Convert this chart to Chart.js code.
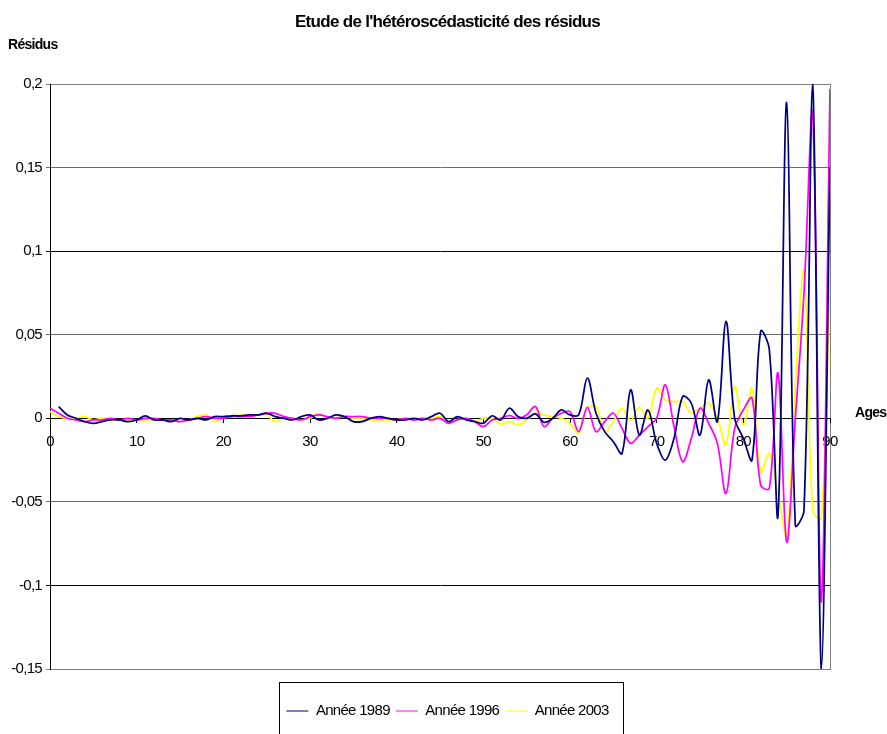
<!DOCTYPE html>
<html>
<head>
<meta charset="utf-8">
<script src="https://cdn.jsdelivr.net/npm/chart.js@4"></script>
<style>
  html, body { margin: 0; padding: 0; background: #fff; }
  #wrap { width: 887px; height: 734px; }
</style>
</head>
<body>
<div id="wrap"><canvas id="residusChart"></canvas></div>
<script>
// ages 0..90
const ages = Array.from({ length: 91 }, (_, i) => i);

// résidus
const annee1989 = [
  null, 0.007, 0.002, 0.000, -0.002, -0.003, -0.002, -0.001, -0.001, -0.002,
  -0.001, 0.0015, -0.001, -0.001, -0.002, 0.000, -0.001, 0.000, -0.001, 0.001,
  0.001, 0.0015, 0.0015, 0.002, 0.002, 0.003, 0.001, 0.000, -0.001, 0.001,
  0.002, -0.001, 0.000, 0.002, 0.001, -0.002, -0.002, 0.000, 0.001, 0.000,
  -0.001, -0.001, 0.000, -0.001, 0.001, 0.003, -0.002, 0.001, -0.001, -0.002,
  -0.003, 0.0015, -0.001, 0.006, 0.001, 0.000, 0.0026, -0.0024, 0.000, 0.005,
  0.002, 0.002, 0.024, 0.003, -0.008, -0.014, -0.021, 0.017, -0.010, 0.005,
  -0.015, -0.025, -0.012, 0.013, 0.009, -0.010, 0.023, -0.002, 0.058, 0.000,
  -0.012, -0.025, 0.052, 0.041, -0.058, 0.189, -0.064, -0.055, 0.200, -0.150,
  0.150
];
const annee1996 = [
  0.006, 0.003, 0.000, -0.001, -0.002, -0.001, -0.001, 0.000, -0.001, 0.000,
  -0.001, 0.000, 0.000, -0.001, -0.001, -0.002, -0.001, 0.000, 0.001, 0.000,
  0.000, 0.001, 0.001, 0.001, 0.002, 0.003, 0.003, 0.001, 0.000, -0.001,
  0.001, 0.002, 0.001, 0.000, 0.001, 0.001, 0.001, 0.000, 0.000, 0.000,
  -0.001, 0.000, -0.001, 0.000, -0.001, 0.000, -0.003, -0.001, 0.000, -0.002,
  -0.005, -0.001, 0.000, 0.0016, 0.000, 0.002, 0.007, -0.005, 0.000, 0.003,
  0.004, -0.008, 0.0066, -0.008, -0.002, 0.003, -0.006, -0.015, -0.010, -0.005,
  0.000, 0.020, -0.005, -0.026, -0.012, 0.006, -0.003, -0.015, -0.045, -0.006,
  0.005, 0.012, -0.040, -0.042, 0.027, -0.074, 0.000, 0.075, 0.182, -0.110,
  0.197
];
const annee2003 = [
  0.004, 0.001, 0.000, 0.000, 0.001, -0.001, 0.000, -0.001, -0.001, -0.001,
  -0.001, -0.001, -0.001, -0.001, -0.001, -0.002, -0.001, 0.001, 0.002, -0.002,
  0.001, 0.001, 0.002, 0.002, 0.002, 0.002, -0.002, 0.000, 0.000, -0.001,
  0.000, 0.003, 0.000, 0.000, 0.001, 0.000, 0.000, -0.001, -0.001, -0.001,
  -0.001, 0.000, 0.000, 0.000, 0.000, 0.001, -0.002, -0.001, 0.000, -0.002,
  0.000, 0.000, -0.0034, -0.002, -0.004, -0.001, 0.003, 0.002, 0.001, 0.000,
  -0.003, -0.009, 0.006, 0.007, -0.008, -0.002, 0.006, -0.001, 0.0066, 0.000,
  0.018, 0.011, 0.010, 0.010, 0.003, 0.006, 0.009, 0.000, -0.016, 0.019,
  -0.004, 0.018, -0.032, -0.021, -0.045, -0.070, 0.020, 0.088, -0.055, -0.060,
  0.083
];

const yTickLabels = ['-0,15', '-0,1', '-0,05', '0', '0,05', '0,1', '0,15', '0,2'];
const xTickLabels = ['0', '10', '20', '30', '40', '50', '60', '70', '80', '90'];

const FONT = "'Liberation Sans', Arial, sans-serif";
const SPACING = '-0.7px';

const toPoints = (vals) => ages.map((a, i) => ({ x: a, y: vals[i] }));

// texte serré comme dans Excel
const spacingPlugin = {
  id: 'spacing',
  beforeUpdate(chart) { chart.ctx.letterSpacing = SPACING; },
  beforeLayout(chart) { chart.ctx.letterSpacing = SPACING; },
  beforeDraw(chart) { chart.ctx.letterSpacing = SPACING; }
};

// cadre gris de la zone de tracé, titre "Ages", cadre de la légende
const decorPlugin = {
  id: 'decor',
  beforeDraw(chart) {
    const { ctx, chartArea } = chart;
    ctx.save();
    ctx.fillStyle = '#fff';
    ctx.fillRect(0, 0, chart.width, chart.height);
    ctx.strokeStyle = '#808080';
    ctx.lineWidth = 1;
    ctx.strokeRect(chartArea.left + 0.5, chartArea.top + 0.5,
      chartArea.right - chartArea.left, chartArea.bottom - chartArea.top);
    ctx.restore();
  },
  afterDraw(chart) {
    const { ctx } = chart;
    const zeroY = chart.scales.y.getPixelForValue(0);
    ctx.save();
    ctx.font = "bold 14px " + FONT;
    ctx.fillStyle = '#000';
    ctx.textAlign = 'left';
    ctx.textBaseline = 'middle';
    ctx.fillText('Ages', 855, zeroY - 5);

    const boxes = chart.legend.legendHitBoxes;
    if (boxes && boxes.length) {
      const first = boxes[0];
      const last = boxes[boxes.length - 1];
      const left = first.left - 7;
      const right = last.left + last.width + 15;
      const midY = first.top + first.height / 2;
      ctx.strokeStyle = '#000';
      ctx.lineWidth = 1;
      ctx.strokeRect(Math.round(left) + 0.5, Math.round(midY - 29) + 0.5, Math.round(right - left), 70);
    }
    ctx.restore();
  }
};

new Chart(document.getElementById('residusChart'), {
  type: 'line',
  data: {
    datasets: [
      { label: 'Année 1989', data: toPoints(annee1989), borderColor: '#000080' },
      { label: 'Année 1996', data: toPoints(annee1996), borderColor: '#FF00FF' },
      { label: 'Année 2003', data: toPoints(annee2003), borderColor: '#FFFF00' }
    ]
  },
  options: {
    responsive: true,
    maintainAspectRatio: false,
    animation: false,
    layout: { padding: { left: 8, right: 0, top: 0, bottom: 5.5 } },
    elements: {
      line: { borderWidth: 1.75, tension: 0.35, fill: false },
      point: { radius: 0 }
    },
    plugins: {
      title: {
        display: true,
        text: "Etude de l'hétéroscédasticité des résidus",
        color: '#000',
        font: { family: FONT, size: 17, weight: 'bold', lineHeight: 1.2 },
        padding: { top: 12, bottom: 0 }
      },
      subtitle: {
        display: true,
        text: 'Résidus',
        align: 'start',
        color: '#000',
        font: { family: FONT, size: 14, weight: 'bold', lineHeight: 1.2 },
        padding: { top: 4, bottom: 30.8 }
      },
      legend: {
        position: 'bottom',
        title: {
          display: true,
          text: '',
          font: { size: 10, lineHeight: 1 },
          padding: { top: 18.5, bottom: 0 }
        },
        labels: {
          usePointStyle: true,
          pointStyle: 'line',
          pointStyleWidth: 22,
          color: '#000',
          font: { family: FONT, size: 15 },
          padding: 6
        }
      },
      tooltip: { enabled: false }
    },
    scales: {
      x: {
        type: 'linear',
        min: 0,
        max: 90,
        position: { y: 0 },
        ticks: {
          stepSize: 10,
          color: '#000',
          font: { family: FONT, size: 15 },
          padding: 11,
          callback: (v) => xTickLabels[v / 10]
        },
        grid: { drawOnChartArea: false, drawTicks: true, tickLength: 4, color: '#000' },
        border: { color: '#000', width: 1 }
      },
      y: {
        min: -0.15,
        max: 0.2,
        afterFit: (s) => { s.width = 42; },
        ticks: {
          stepSize: 0.05,
          color: '#000',
          font: { family: FONT, size: 15 },
          padding: 4,
          callback: (v) => yTickLabels[Math.round((v + 0.15) / 0.05)]
        },
        grid: {
          color: (c) => {
            if (c.index === 0 || c.index === yTickLabels.length - 1) return '#808080';
            return (c.index % 2 === 0) ? '#6a6a6a' : '#000';
          },
          lineWidth: 1,
          tickLength: 4
        },
        border: { color: '#000', width: 1 }
      },
      // marge de droite (place pour "Ages")
      yMarge: {
        position: 'right',
        grid: { display: false },
        ticks: { display: false },
        border: { display: false },
        afterFit: (s) => { s.width = 57; }
      }
    }
  },
  plugins: [spacingPlugin, decorPlugin]
});
</script>
</body>
</html>
